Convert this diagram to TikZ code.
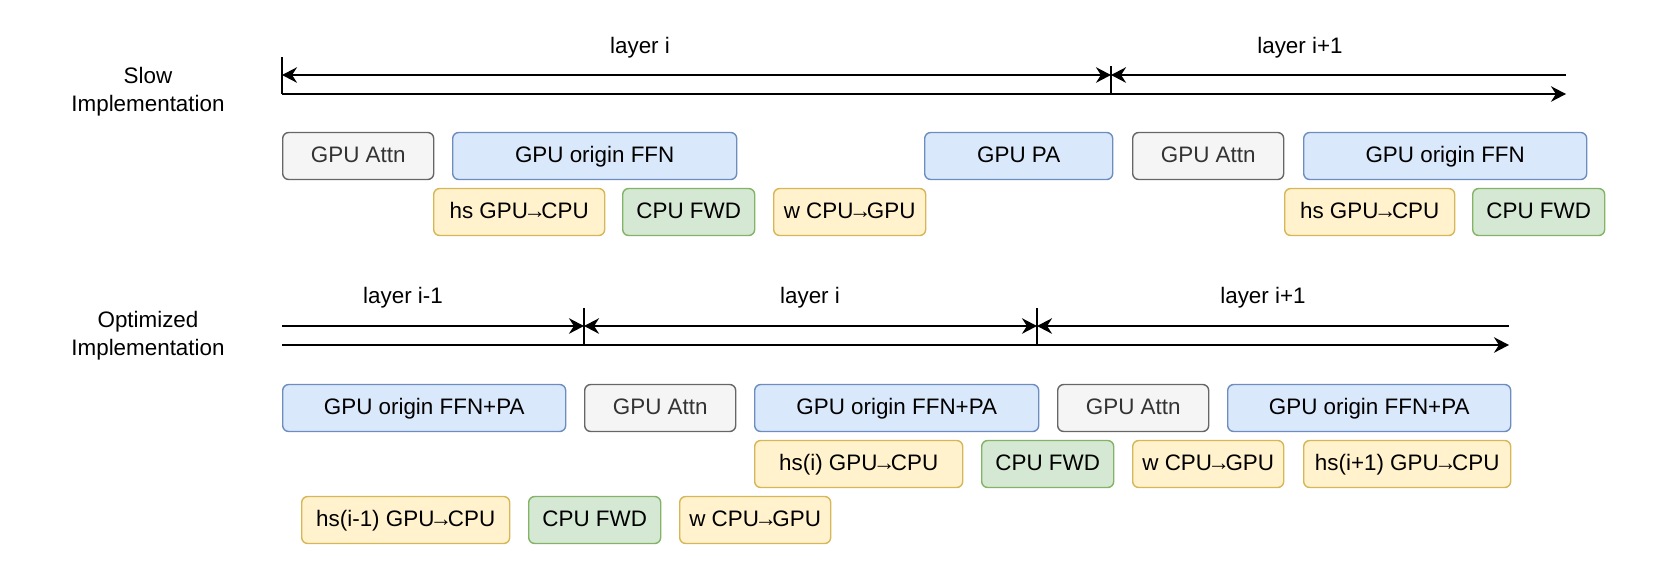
\documentclass[tikz,border=0pt]{standalone}
\usepackage{fontspec}
\setmainfont{Liberation Sans}
\usetikzlibrary{arrows.meta,positioning}
\newcommand{\xto}{\kern-0.2em→\kern-0.2em}
\definecolor{attnfill}{HTML}{F5F5F5}
\definecolor{attnline}{HTML}{666666}
\definecolor{attntext}{HTML}{333333}
\definecolor{ffnfill}{HTML}{DAE8FC}
\definecolor{ffnline}{HTML}{6C8EBF}
\definecolor{xferfill}{HTML}{FFF2CC}
\definecolor{xferline}{HTML}{D6B656}
\definecolor{fwdfill}{HTML}{D5E8D4}
\definecolor{fwdline}{HTML}{82B366}

\begin{document}
\begin{tikzpicture}[
  x=0.02cm, y=-0.02cm,
  >={Stealth[length=3mm, width=3.1mm]},
  font=\fontsize{12.75}{16}\selectfont,
  op/.style={draw, rounded corners=1.2mm, line width=0.8pt, minimum height=0.94cm,
             inner sep=0pt, text height=0.72em, text depth=0pt, anchor=west},
  boxw/.style={minimum width=#1*0.02cm},
  attn/.style={op, fill=attnfill, draw=attnline, text=attntext},
  ffn/.style={op, fill=ffnfill, draw=ffnline},
  xfer/.style={op, fill=xferfill, draw=xferline},
  fwd/.style={op, fill=fwdfill, draw=fwdline},
  timeline/.style={line width=1.1pt},
  divider/.style={line width=0.6pt},
  lbl/.style={align=center},
]
\useasboundingbox (0,0) rectangle (1661,566);

% ============================================================ SLOW
\node[lbl] (slow) at (148,92) {Slow\\Implementation};

\coordinate (a0) at (282,75);
\coordinate (a1) at (1111,75);
\coordinate (a2) at (1566,75);
\coordinate (b0) at (282,94);
\coordinate (b2) at (1566,94);

\draw[divider] ([yshift=0.36cm]a0) -- (b0);
\draw[divider] ([yshift=0.18cm]a1) -- (a1 |- b0);
\draw[timeline, <->] (a0) -- (a1);
\draw[timeline, <-] (a1) -- (a2);
\draw[timeline, ->] (b0) -- (b2);

\node (layA) at (640,48) {layer i};
\node (layB) at (1300,48) {layer i+1};

% GPU stream
\node[attn, boxw=151] (attnA) at (282,156) {GPU Attn};
\node[ffn, boxw=284] (ffnA) at (452,156) {GPU origin FFN};
\node[ffn, boxw=188] (paA) at (924,156) {GPU PA};
\node[attn, boxw=151] (attnB) at (1132,156) {GPU Attn};
\node[ffn, boxw=283] (ffnB) at (1303,156) {GPU origin FFN};

% copies and CPU work
\node[xfer, boxw=171] (hsA) at (433,212) {hs GPU\xto CPU};
\node[fwd, boxw=132] (fwdA) at (622,212) {CPU FWD};
\node[xfer, boxw=152] (wA) at (773,212) {w CPU\xto GPU};
\node[xfer, boxw=170] (hsB) at (1284,212) {hs GPU\xto CPU};
\node[fwd, boxw=132] (fwdB) at (1472,212) {CPU FWD};

% ============================================================ OPTIMIZED
\node[lbl] (opt) at (148,336) {Optimized\\Implementation};

\coordinate (c0) at (282,326);
\coordinate (c1) at (584,326);
\coordinate (c2) at (1037,326);
\coordinate (c3) at (1509,326);
\coordinate (d0) at (282,345);
\coordinate (d3) at (1509,345);

\draw[divider] ([yshift=0.36cm]c1) -- (c1 |- d0);
\draw[divider] ([yshift=0.36cm]c2) -- (c2 |- d0);
\draw[timeline, ->] (c0) -- (c1);
\draw[timeline, <->] (c1) -- (c2);
\draw[timeline, <-] (c2) -- (c3);
\draw[timeline, ->] (d0) -- (d3);

\node (layC) at (403,298) {layer i-1};
\node (layD) at (810,298) {layer i};
\node (layE) at (1263,298) {layer i+1};

% GPU stream
\node[ffn, boxw=283] (ffnC) at (282,408) {GPU origin FFN+PA};
\node[attn, boxw=151] (attnC) at (584,408) {GPU Attn};
\node[ffn, boxw=284] (ffnD) at (754,408) {GPU origin FFN+PA};
\node[attn, boxw=151] (attnD) at (1057,408) {GPU Attn};
\node[ffn, boxw=283] (ffnE) at (1227,408) {GPU origin FFN+PA};

% overlapped copies and CPU work
\node[xfer, boxw=208] (hsC) at (754,464) {hs(i) GPU\xto CPU};
\node[fwd, boxw=132] (fwdC) at (981,464) {CPU FWD};
\node[xfer, boxw=151] (wC) at (1132,464) {w CPU\xto GPU};
\node[xfer, boxw=207] (hsD) at (1303,464) {hs(i+1) GPU\xto CPU};

\node[xfer, boxw=208] (hsE) at (301,520) {hs(i-1) GPU\xto CPU};
\node[fwd, boxw=132] (fwdD) at (528,520) {CPU FWD};
\node[xfer, boxw=151] (wD) at (679,520) {w CPU\xto GPU};

\end{tikzpicture}
\end{document}
